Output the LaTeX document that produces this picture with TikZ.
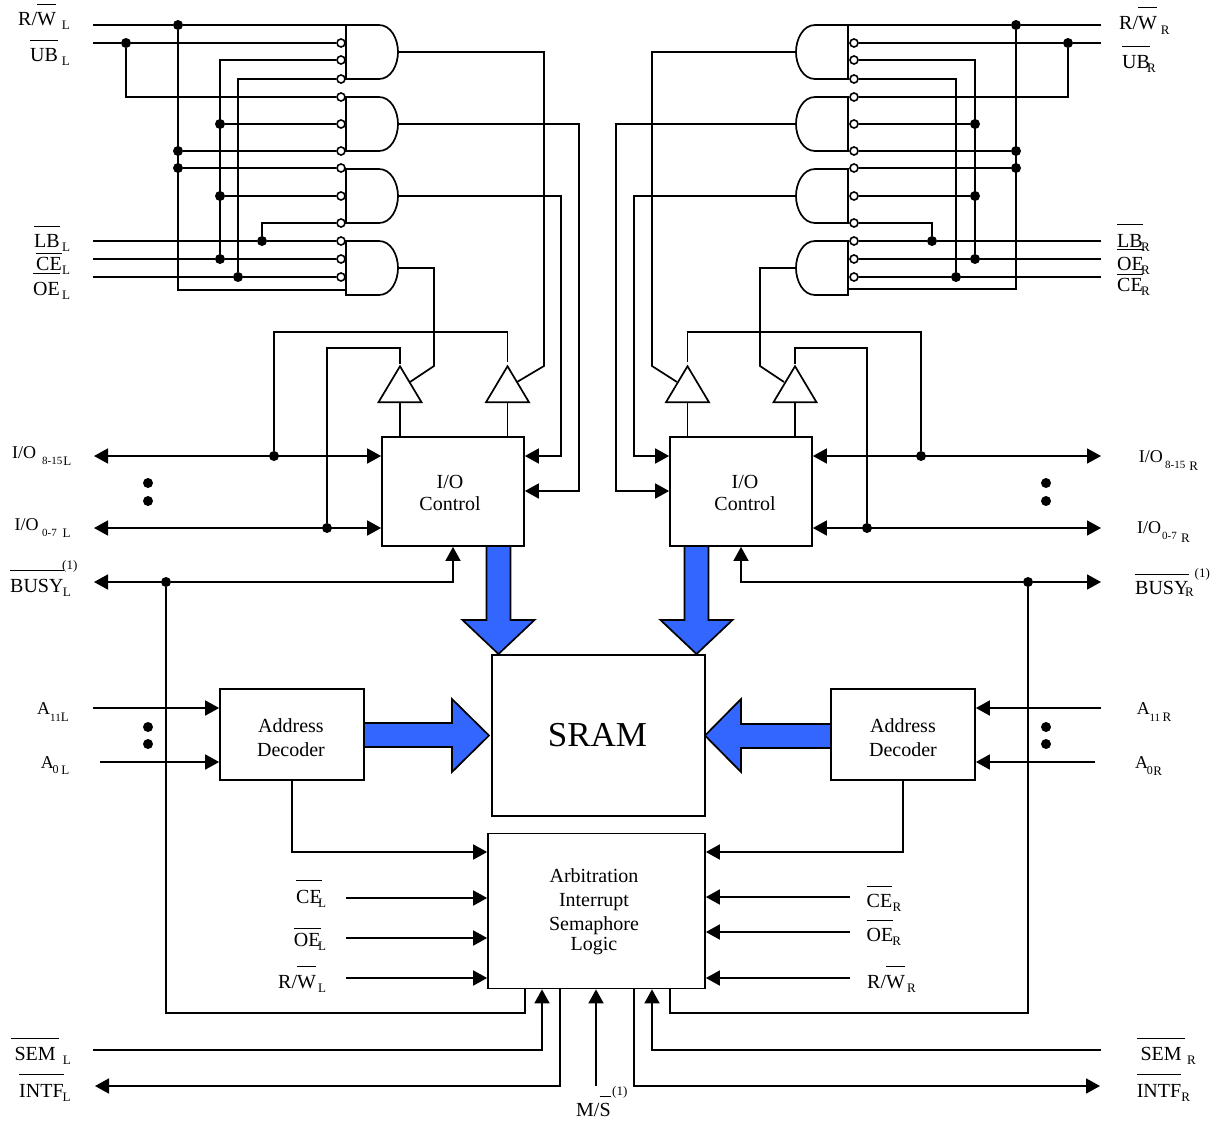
\documentclass[tikz,border=0pt]{standalone}
\usepackage{fontspec}
\setmainfont{Liberation Serif}
\usetikzlibrary{arrows.meta,shapes.geometric}

\definecolor{busblue}{RGB}{51,102,255}

\newcommand{\ovl}[2][20pt]{\leavevmode\setbox0\hbox{#2}\rlap{\rule[#1]{\wd0}{1.2pt}}\box0}
\newcommand{\sbx}[4]{\hspace{#1}\raisebox{#2}{\fontsize{#3}{#3}\selectfont #4}}
\newcommand{\sbs}[2][0pt]{\sbx{#1}{-4pt}{13pt}{#2}}

\tikzset{
    wire/.style={line width=1.7pt},
    sig/.style={line width=1.7pt, -{Triangle[length=14pt,width=15pt]}},
    bisig/.style={line width=1.7pt, {Triangle[length=14pt,width=15pt]}-{Triangle[length=14pt,width=15pt]}},
    blk/.style={draw, line width=1.7pt, inner sep=0pt},
    lab/.style={anchor=base west, inner sep=0pt, font=\fontsize{20}{24}\selectfont},
    iolab/.style={anchor=base west, inner sep=0pt, font=\fontsize{18}{20}\selectfont},
    txt/.style={align=center, inner sep=0pt, font=\fontsize{20}{24}\selectfont},
    jn/.style={circle, fill=black, minimum size=10pt, inner sep=0pt},
    bub/.style={circle, draw, fill=white, line width=1.6pt, minimum size=8pt, inner sep=0pt},
    buf/.style={isosceles triangle, isosceles triangle stretches, shape border rotate=90, draw,
        line width=1.7pt, minimum width=43pt, minimum height=36pt, inner sep=0pt, anchor=apex},
    bus/.style={draw=black, fill=busblue, line width=1.7pt}
}

\begin{document}
\begin{tikzpicture}[x=1pt,y=-1pt]
    \useasboundingbox (0,0) rectangle (1217,1122);

    % Boxes
    \node[blk, minimum width=142pt, minimum height=109pt] (iol) at (453,491.5) {};
    \node[blk, minimum width=142pt, minimum height=109pt] (ior) at (741,491.5) {};
    \node[blk, minimum width=213pt, minimum height=161pt] (sram) at (598.5,735.5) {};
    \node[blk, minimum width=144pt, minimum height=91pt] (adl) at (292,734.5) {};
    \node[blk, minimum width=144pt, minimum height=91pt] (adr) at (903,734.5) {};
    \node[blk, minimum width=217pt, minimum height=155pt] (arb) at (596.5,911) {};

    % Text of the boxes
    \node[txt] (iolt) at (450,493) {I/O\\[-2pt]Control};
    \node[txt] (iort) at (745,493) {I/O\\[-2pt]Control};
    \node[txt] (adlt) at (291,738) {Address\\Decoder};
    \node[txt] (adrt) at (903,738) {Address\\Decoder};
    \node[txt] (arbt) at (594,912) {Arbitration\\Interrupt\\Semaphore\\[-4pt]Logic};
    \node[inner sep=0pt, font=\fontsize{35}{40}\selectfont] (sramt) at (597.5,735.5) {SRAM};

    % Gates on both sides
    \foreach \n/\y in {a/25, b/97, c/169, d/241} {
        \draw[wire] (346,\y) -- (379,\y) .. controls (391,\y) and (398,\y+14) .. (398,\y+27)
            .. controls (398,\y+40) and (391,\y+54) .. (379,\y+54) -- (346,\y+54) -- cycle;
        \draw[wire] (848,\y) -- (815,\y) .. controls (803,\y) and (796,\y+14) .. (796,\y+27)
            .. controls (796,\y+40) and (803,\y+54) .. (815,\y+54) -- (848,\y+54) -- cycle;
        \coordinate (gl\n) at (398,\y+27);
        \coordinate (gr\n) at (796,\y+27);
    }

    % Inverting inputs
    \foreach \y in {43,60,79,97,124,151,168,196,223,241,259,277} {
        \node[bub] (bl\y) at (341,\y) {};
        \node[bub] (br\y) at (854,\y) {};
    }

    % Tri-state buffers
    \node[buf] (tl1) at (400,364) {};
    \node[buf] (tl2) at (507.5,364) {};
    \node[buf] (tr1) at (687.5,364) {};
    \node[buf] (tr2) at (795,364) {};

    % Junctions, left
    \foreach \n/\x/\y in {jrwl/178/25, jrwlb/178/151, jrwlc/178/168, jubl/126/43, jcela/220/124,
        jcelb/220/196, jcel/220/259, joel/238/277, jlbl/262/241, jio8l/274/456, jio0l/327/528,
        jbsl/166/582, dla/148/483, dlb/148/501, dlc/148/727, dld/148/744} {
        \node[jn] (\n) at (\x,\y) {};
    }

    % Junctions, right
    \foreach \n/\x/\y in {jrwr/1016/25, jrwrb/1016/151, jrwrc/1016/168, jubr/1068/43, jcera/975/124,
        jcerb/975/196, jcer/975/259, joer/956/277, jlbr/932/241, jio8r/921/456, jio0r/867/528,
        jbsr/1028/582, dra/1046/483, drb/1046/501, drc/1046/727, drd/1046/744} {
        \node[jn] (\n) at (\x,\y) {};
    }

    % Free ends of the wires
    \foreach \n/\x/\y in {prwl/93/25, publ/93/43, plbl/93/241, pcel/93/259, poel/93/277,
        prwr/1101/25, pubr/1101/43, plbr/1101/241, pcer/1101/277, poer/1101/259,
        grwl/346/25, grwr/848/25, gdl/346/290, gdr/848/289, thkl/274/43, thkr/921/43,
        pio8l/94/456, pio0l/94/528, pbsl/94/582, pio8r/1101/456, pio0r/1101/528, pbsr/1101/582,
        kla/544/366, klb/434/366, ina/517/382, inb/410/382, kra/652/366, krb/760/366,
        inc/677/382, ind/784/382, cla/579/491, clb/561/456, cra/616/491, crb/634/456,
        ena/507.5/332, enaz/507.5/362, enb/400/348, enc/687.5/332, encz/687.5/362, end/795/348,
        pa11l/93/708, pa0l/100/762, pa11r/1101/708, pa0r/1095/762,
        pcein/346/898, poein/346/938, prwin/346/978, qcein/850/897, qoein/850/932, qrwin/850/978,
        psml/93/1050, pitl/95/1086, psmr/1101/1050, pitr/1100/1086, pms/596/1086,
        ksml/542/1050, kitl/560/1086, ksmr/652/1050, kitr/634/1086,
        kbl/525/1013, kbr/670/1013, kal/292/852, kar/903/852} {
        \coordinate (\n) at (\x,\y);
    }

    % Wires into the left gates
    \draw[wire] (prwl) -- (jrwl) -- (grwl);
    \draw[wire] (publ) -- (jubl) -- (bl43);
    \draw[wire] (jrwl) |- (gdl);
    \draw[wire] (jubl) |- (bl97);
    \draw[wire] (jcel) |- (bl60);
    \draw[wire] (joel) |- (bl79);
    \draw[wire] (jlbl) |- (bl223);
    \draw[wire] (plbl) -- (jlbl) -- (bl241);
    \draw[wire] (pcel) -- (jcel) -- (bl259);
    \draw[wire] (poel) -- (joel) -- (bl277);
    \foreach \a/\b in {jcela/bl124, jcelb/bl196, jrwlb/bl151, jrwlc/bl168} {
        \draw[wire] (\a) -- (\b);
    }
    \draw[line width=2.8pt] (thkl) -- (bl43);

    % Wires into the right gates
    \draw[wire] (prwr) -- (jrwr) -- (grwr);
    \draw[wire] (pubr) -- (jubr) -- (br43);
    \draw[wire] (jrwr) |- (gdr);
    \draw[wire] (jubr) |- (br97);
    \draw[wire] (jcer) |- (br60);
    \draw[wire] (joer) |- (br79);
    \draw[wire] (jlbr) |- (br223);
    \draw[wire] (plbr) -- (jlbr) -- (br241);
    \draw[wire] (poer) -- (jcer) -- (br259);
    \draw[wire] (pcer) -- (joer) -- (br277);
    \foreach \a/\b in {jcera/br124, jcerb/br196, jrwrb/br151, jrwrc/br168} {
        \draw[wire] (\a) -- (\b);
    }
    \draw[line width=2.8pt] (thkr) -- (br43);

    % Gate outputs
    \draw[wire] (gla) -| (kla) -- (ina);
    \draw[wire] (gld) -| (klb) -- (inb);
    \draw[sig] (glb) -| (cla) -- (iol.east |- cla);
    \draw[sig] (glc) -| (clb) -- (iol.east |- clb);
    \draw[wire] (gra) -| (kra) -- (inc);
    \draw[wire] (grd) -| (krb) -- (ind);
    \draw[sig] (grb) -| (cra) -- (ior.west |- cra);
    \draw[sig] (grc) -| (crb) -- (ior.west |- crb);

    % Enables of the buffers
    \draw[wire] (jio8l) |- (ena) -- (enaz);
    \draw[wire] (jio0l) |- (enb) -- (tl1.apex);
    \draw[wire] (jio8r) |- (enc) -- (encz);
    \draw[wire] (jio0r) |- (end) -- (tr2.apex);
    \foreach \t/\b in {tl1/iol, tl2/iol, tr1/ior, tr2/ior} {
        \draw[wire] (\t.lower side) -- (\t.lower side |- \b.north);
    }

    % Data and busy lines
    \draw[bisig] (pio8l) -- (iol.west |- pio8l);
    \draw[bisig] (pio0l) -- (iol.west |- pio0l);
    \draw[bisig] (pio8r) -- (ior.east |- pio8r);
    \draw[bisig] (pio0r) -- (ior.east |- pio0r);
    \draw[sig] (jbsl) -- (pbsl);
    \draw[sig] (jbsl) -| (iol.south);
    \draw[sig] (jbsr) -- (pbsr);
    \draw[sig] (jbsr) -| (ior.south);
    \draw[wire] (jbsl) |- (kbl) -- (kbl |- arb.south);
    \draw[wire] (jbsr) |- (kbr) -- (kbr |- arb.south);

    % Address lines
    \draw[sig] (pa11l) -- (adl.west |- pa11l);
    \draw[sig] (pa0l) -- (adl.west |- pa0l);
    \draw[sig] (pa11r) -- (adr.east |- pa11r);
    \draw[sig] (pa0r) -- (adr.east |- pa0r);
    \draw[sig] (adl.south) |- (arb.west |- kal);
    \draw[sig] (adr.south) |- (arb.east |- kar);

    % Arbitration inputs and outputs
    \foreach \p in {pcein, poein, prwin} {
        \draw[sig] (\p) -- (arb.west |- \p);
    }
    \foreach \p in {qcein, qoein, qrwin} {
        \draw[sig] (\p) -- (arb.east |- \p);
    }
    \draw[sig] (psml) -- (ksml) -- (ksml |- arb.south);
    \draw[sig] (psmr) -- (ksmr) -- (ksmr |- arb.south);
    \draw[sig] (pms) -- (pms |- arb.south);
    \draw[sig] (kitl |- arb.south) -- (kitl) -- (pitl);
    \draw[sig] (kitr |- arb.south) -- (kitr) -- (pitr);

    % Blue buses
    \foreach \x in {498.5,696.5} {
        \draw[bus] (\x-12,546) -- (\x-12,620) -- (\x-36,620) -- (\x,654) -- (\x+36,620) -- (\x+12,620) -- (\x+12,546) -- cycle;
    }
    \draw[bus] (364,723) -- (452,723) -- (452,699) -- (489,735.5) -- (452,772) -- (452,747) -- (364,747) -- cycle;
    \draw[bus] (831,724) -- (741,724) -- (741,699) -- (705,735.5) -- (741,772) -- (741,748) -- (831,748) -- cycle;

    % Labels, left
    \node[lab] (lrwl) at (18,25) {R/\ovl{W}\sbs[6pt]{L}};
    \node[lab] (lubl) at (30,61) {\ovl{UB}\sbs[4pt]{L}};
    \node[lab] (llbl) at (34,247) {\ovl{LB}\sbs[2.4pt]{L}};
    \node[lab] (lcel) at (36,270) {\ovl[16pt]{CE}\sbs[0.4pt]{L}};
    \node[lab] (loel) at (33,295) {\ovl[21pt]{OE}\sbs[2.3pt]{L}};
    \node[iolab] (lio8l) at (12,458) {I/O\sbx{6pt}{-6pt}{11pt}{8-15}\sbx{1pt}{-7pt}{13pt}{L}};
    \node[iolab] (lio0l) at (14.5,530) {I/O\sbx{3.5pt}{-6pt}{11pt}{0-7}\sbx{5.7pt}{-7pt}{13pt}{L}};
    \node[lab] (lbsl) at (10,592) {\ovl[21pt]{BUSY}\sbs[-0.6pt]{L}};
    \node[anchor=base west, inner sep=0pt, font=\fontsize{13}{13}\selectfont] (lbsln) at (62,569) {(1)};
    \node[iolab] (la11l) at (37,714) {A\sbx{0pt}{-7pt}{11pt}{11}\sbx{0pt}{-7pt}{13pt}{L}};
    \node[iolab] (la0l) at (40.7,768) {A\sbx{-1.4pt}{-5pt}{12pt}{0}\sbx{2.8pt}{-6pt}{13pt}{L}};
    \node[lab] (lcein) at (296,903) {\ovl[22pt]{CE}\sbs[-3.6pt]{L}};
    \node[lab] (loein) at (293.7,946) {\ovl[17pt]{OE}\sbs[-2.4pt]{L}};
    \node[lab] (lrwin) at (278,988) {R/\ovl[21pt]{W}\sbs[2.2pt]{L}};
    \node[lab] (lsml) at (11,1060) {\ovl[21pt]{\,SEM\,}\sbs[4pt]{L}};
    \node[lab] (litl) at (19,1097) {\ovl[22pt]{INTF}\sbs[-1pt]{L}};

    % Labels, right
    \node[lab] (lrwr) at (1119,29) {R/\ovl[21pt]{W}\sbx{4pt}{-5pt}{13pt}{R}};
    \node[lab] (lubr) at (1122,68) {\ovl[21pt]{UB}\sbs[-3pt]{R}};
    \node[lab] (llbr) at (1117,247) {\ovl[22pt]{LB}\sbs[-1.6pt]{R}};
    \node[lab] (loer) at (1117,270) {\ovl{OE}\sbs[-2.7pt]{R}};
    \node[lab] (lcer) at (1117,291) {\ovl[16pt]{CE}\sbs[-1.6pt]{R}};
    \node[iolab] (lio8r) at (1138.6,462) {I/O\sbx{2.4pt}{-6pt}{11pt}{8-15}\sbx{4pt}{-8pt}{13pt}{R}};
    \node[iolab] (lio0r) at (1137,533) {I/O\sbx{1pt}{-6pt}{11pt}{0-7}\sbx{4.3pt}{-9pt}{13pt}{R}};
    \node[lab] (lbsr) at (1135,594) {\ovl[19pt]{BUSY}\sbx{-3.4pt}{-2pt}{13pt}{R}};
    \node[anchor=base west, inner sep=0pt, font=\fontsize{13}{13}\selectfont] (lbsrn) at (1194.5,577) {(1)};
    \node[iolab] (la11r) at (1136.7,714) {A\sbx{-0.4pt}{-7pt}{11pt}{11}\sbx{2.4pt}{-7pt}{13pt}{R}};
    \node[iolab] (la0r) at (1135,768) {A\sbx{-1.3pt}{-6pt}{12pt}{0}\sbx{0.5pt}{-7pt}{13pt}{R}};
    \node[lab] (lqce) at (866.5,907) {\ovl{CE}\sbs[0.4pt]{R}};
    \node[lab] (lqoe) at (866.5,941) {\ovl{OE}\sbs[-1pt]{R}};
    \node[lab] (lqrw) at (867,988) {R/\ovl[21pt]{W}\sbs[2.2pt]{R}};
    \node[lab] (lsmr) at (1137,1060) {\ovl[21pt]{\,SEM\,}\sbs[2pt]{R}};
    \node[lab] (litr) at (1136.6,1097) {\ovl[22pt]{INTF}\sbs[0pt]{R}};

    % Master/slave
    \node[lab] (lms) at (576,1116) {M/\ovl[19pt]{S}};
    \node[anchor=base west, inner sep=0pt, font=\fontsize{13}{13}\selectfont] (lmsn) at (612,1095) {(1)};

\end{tikzpicture}
\end{document}
